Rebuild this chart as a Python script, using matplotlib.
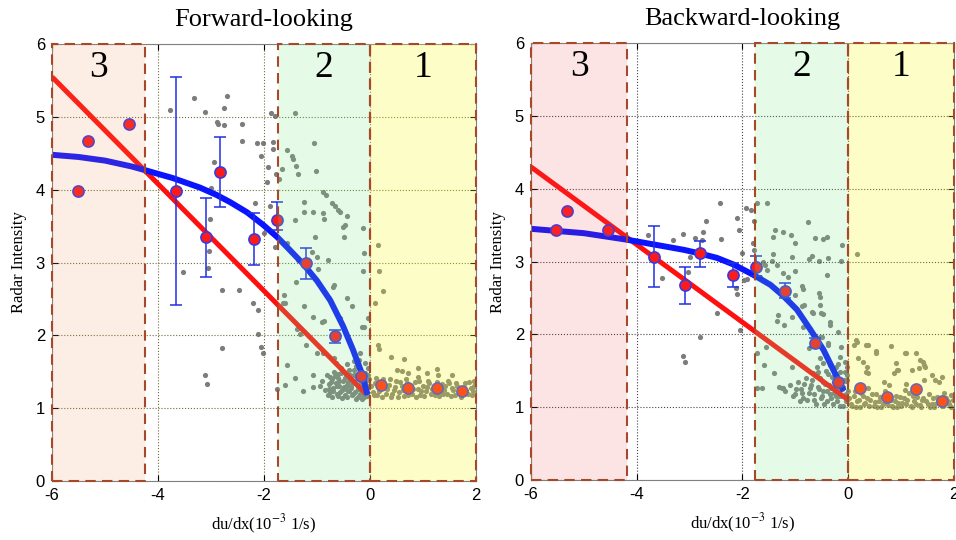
import numpy as np
import matplotlib
matplotlib.use("Agg")
from matplotlib import pyplot as plt
from matplotlib.patches import Rectangle

plt.rcParams['axes.unicode_minus'] = False
plt.rcParams['mathtext.fontset'] = 'stix'

# ---------------- data ----------------
titles = ["Forward-looking", "Backward-looking"]

# bin means (red dots)
fwd_mean_x = [-5.51, -5.32, -4.55, -3.66, -3.09, -2.83, -2.19, -1.75, -1.21, -0.66, -0.17, 0.21, 0.72, 1.26, 1.74]
fwd_mean_y = [3.98, 4.67, 4.90, 3.98, 3.35, 4.24, 3.32, 3.59, 2.99, 1.99, 1.44, 1.32, 1.28, 1.28, 1.24]
bwd_mean_x = [-5.53, -5.32, -4.54, -3.67, -3.08, -2.80, -2.17, -1.74, -1.19, -0.62, -0.19, 0.23, 0.74, 1.29, 1.77]
bwd_mean_y = [3.43, 3.69, 3.43, 3.06, 2.68, 3.12, 2.82, 2.93, 2.60, 1.88, 1.35, 1.26, 1.14, 1.25, 1.09]

# error bars (x, bottom, top)
fwd_err_x = [-3.66, -3.09, -2.83, -2.19, -1.75, -1.21, -0.66]
fwd_err_lo = [2.42, 2.80, 3.76, 2.97, 3.45, 2.77, 1.90]
fwd_err_hi = [5.55, 3.89, 4.73, 3.68, 3.83, 3.20, 2.08]
bwd_err_x = [-3.67, -3.08, -2.80, -2.17, -1.74, -1.19, -0.62]
bwd_err_lo = [2.65, 2.42, 2.93, 2.65, 2.80, 2.50, 1.82]
bwd_err_hi = [3.49, 2.93, 3.28, 2.98, 3.08, 2.71, 1.95]

# linear fit (red) and curved fit (blue)
fwd_lin_x = [-6.0, -0.08]
fwd_lin_y = [5.55, 1.20]
bwd_lin_x = [-6.0, 0.0]
bwd_lin_y = [4.30, 1.10]
fwd_fit_x = [-6.0, -5.5, -5.0, -4.5, -4.25, -3.72, -3.21, -2.9, -2.64, -2.32, -2.02, -1.75, -1.51, -1.26,
             -1.0, -0.75, -0.51, -0.32, -0.15, -0.06]
fwd_fit_y = [4.48, 4.45, 4.40, 4.32, 4.27, 4.16, 4.03, 3.93, 3.83, 3.69, 3.52, 3.35, 3.17, 2.98,
             2.75, 2.48, 2.13, 1.80, 1.47, 1.22]
bwd_fit_x = [-6.0, -5.0, -4.18, -3.56, -3.1, -2.80, -2.48, -2.17, -1.80, -1.47, -1.23, -0.97, -0.72, -0.47,
             -0.28, -0.11]
bwd_fit_y = [3.45, 3.39, 3.30, 3.22, 3.16, 3.11, 3.05, 2.96, 2.82, 2.68, 2.53, 2.34, 2.07, 1.79,
             1.51, 1.26]

# raw samples (grey dots), scattered ones
fwd_pts_x = [-3.77, -3.32, -2.70, -3.11, -2.75, -2.89, -2.87, -2.75, -2.42, -2.42, -2.13, -2.02, -1.87, -1.79,
             -1.83, -1.83, -2.06, -1.92, -1.77, -1.94, -2.94, -3.00, -2.17, -1.89, -3.02, -2.00, -3.04, -3.06,
             -3.53, -2.79, -2.47, -2.21, -2.11, -2.11, -2.06, -2.02, -2.79, -3.11, -3.08, -1.79,
             -1.57, -1.66, -1.72, -1.62, -1.60, -1.57, -1.60, -1.75, -1.42, -1.47, -1.45, -1.40, -1.36, -1.06,
             -1.02, -0.89, -0.83, -0.72, -0.66, -0.60, -0.57, -0.43, -0.47, -0.51, -0.13, -1.25, -1.25, -1.08,
             -0.89, -0.87, -1.42, -1.04, -0.49, -1.57, -1.09, -1.00, -0.79, -0.11, -0.13, -0.98, -1.36, -1.40,
             -1.64, -1.25, -1.08, -0.91, -0.87, -0.70, -0.68, -0.77, -0.43, -0.34, -0.57, -1.38, -1.32, -1.21,
             -1.00, -0.89, -0.15, -0.11, -0.04, -1.42, -1.26, -1.08, -1.08, -0.75, -0.60, -0.64, -0.68, -0.21,
             -0.19,
             0.15, 0.17, 0.25, 0.09, 0.15, 0.17, 0.40, 0.64, 0.51, 0.60, 0.72, 0.91, 1.26, 1.28, 1.55, 1.08,
             0.91, 1.96]
fwd_pts_y = [5.10, 5.26, 5.29, 5.07, 5.12, 4.93, 4.90, 4.89, 4.90, 4.67, 4.64, 4.64, 5.05, 5.01,
             4.66, 4.56, 4.46, 4.31, 4.22, 4.11, 4.38, 4.02, 3.82, 3.78, 3.60, 3.41, 3.16, 2.93,
             2.87, 2.62, 2.62, 2.44, 2.35, 2.02, 1.84, 1.76, 1.83, 1.46, 1.33, 3.21,
             4.55, 4.29, 4.15, 2.56, 2.45, 1.59, 1.32, 1.26, 5.05, 4.46, 4.42, 4.33, 4.22, 4.64,
             4.26, 3.97, 3.93, 3.82, 3.78, 3.72, 3.70, 3.64, 3.52, 3.49, 3.47, 3.83, 3.69, 3.69,
             3.68, 3.60, 3.59, 3.35, 3.35, 3.27, 3.15, 3.08, 3.04, 3.13, 2.88, 2.91, 3.04, 2.73,
             2.45, 2.40, 2.25, 2.18, 2.20, 2.66, 2.69, 2.51, 2.51, 2.40, 2.24, 2.09, 2.02, 1.87,
             1.76, 1.76, 2.12, 2.12, 2.24, 1.41, 1.24, 1.46, 1.29, 1.43, 1.47, 1.62, 1.69, 1.66,
             1.76,
             3.24, 2.88, 2.61, 2.45, 1.87, 1.81, 1.70, 1.67, 1.52, 1.51, 1.48, 1.55, 1.54, 1.46, 1.46, 1.48,
             1.43, 1.37]

# dense cluster near zero strain (forward)
fwd_dense_x = [-0.95, -0.90, -0.85, -0.82, -0.78, -0.75, -0.72, -0.70, -0.68, -0.65, -0.62, -0.60, -0.58, -0.55,
               -0.53, -0.50, -0.48, -0.46, -0.44, -0.42, -0.40, -0.38, -0.36, -0.34, -0.32, -0.30, -0.28, -0.26,
               -0.24, -0.22, -0.20, -0.18, -0.16, -0.14, -0.12, -0.10, -0.08, -0.06, -0.04, -0.02,
               -0.80, -0.77, -0.74, -0.71, -0.69, -0.66, -0.63, -0.61, -0.59, -0.56, -0.54, -0.52, -0.49, -0.47,
               -0.45, -0.43, -0.41, -0.39, -0.37, -0.35, -0.33, -0.31, -0.29, -0.27, -0.25, -0.23, -0.21, -0.19,
               -0.17, -0.15, -0.13, -0.11, -0.09, -0.07, -0.05, -0.03, -0.01, -0.44, -0.30, -0.15,
               0.05, 0.10, 0.14, 0.20, 0.25, 0.30, 0.35, 0.40, 0.45, 0.50, 0.55, 0.60, 0.65, 0.70, 0.75, 0.80,
               0.85, 0.90, 0.95, 1.00, 1.05, 1.10, 1.15, 1.20, 1.30, 1.35, 1.40, 1.45, 1.50, 1.55, 1.60, 1.65,
               1.70, 1.80, 1.85, 1.90, 1.95,
               0.02, 0.07, 0.12, 0.17, 0.22, 0.27, 0.32, 0.37, 0.42, 0.47, 0.52, 0.57, 0.62, 0.67, 0.72, 0.77,
               0.82, 0.87, 0.92, 0.97, 1.02, 1.07, 1.12, 1.17, 1.22, 1.27, 1.32, 1.37, 1.42, 1.47, 1.52, 1.57,
               1.62, 1.67, 1.72, 1.77, 1.82, 1.87, 1.92, 1.97]
fwd_dense_y = [1.30, 1.38, 1.25, 1.45, 1.33, 1.22, 1.40, 1.28, 1.50, 1.35, 1.20, 1.42, 1.30, 1.55,
               1.25, 1.38, 1.18, 1.46, 1.32, 1.24, 1.52, 1.40, 1.28, 1.18, 1.35, 1.45, 1.22, 1.58,
               1.32, 1.15, 1.40, 1.26, 1.50, 1.20, 1.35, 1.62, 1.28, 1.17, 1.45, 1.30,
               1.18, 1.27, 1.36, 1.15, 1.24, 1.44, 1.30, 1.17, 1.37, 1.22, 1.48, 1.14, 1.29, 1.42,
               1.26, 1.16, 1.36, 1.24, 1.46, 1.30, 1.20, 1.52, 1.34, 1.13, 1.42, 1.26, 1.55, 1.19,
               1.36, 1.30, 1.44, 1.16, 1.48, 1.38, 1.22, 1.55, 1.40, 1.60, 1.65, 1.12,
               1.22, 1.35, 1.18, 1.28, 1.40, 1.20, 1.32, 1.15, 1.25, 1.38, 1.22, 1.30, 1.17, 1.34, 1.24, 1.20,
               1.36, 1.27, 1.18, 1.31, 1.23, 1.38, 1.20, 1.30, 1.17, 1.33, 1.25, 1.20, 1.35, 1.28, 1.18, 1.30,
               1.22, 1.34, 1.20, 1.28, 1.24,
               1.30, 1.18, 1.42, 1.24, 1.16, 1.33, 1.26, 1.40, 1.19, 1.29, 1.16, 1.36, 1.25, 1.40, 1.18, 1.30,
               1.26, 1.16, 1.38, 1.23, 1.17, 1.29, 1.34, 1.26, 1.18, 1.36, 1.24, 1.20, 1.31, 1.38, 1.17, 1.25,
               1.34, 1.22, 1.16, 1.28, 1.24, 1.36, 1.18, 1.30]

bwd_pts_x = [-2.42, -1.93, -1.83, -2.10, -2.69, -2.06, -1.78, -3.78, -3.31, -3.12, -2.89, -2.74, -2.76, -2.40,
             -2.00, -1.80, -1.78, -3.52, -3.03, -2.99, -1.98, -1.91, -2.12, -2.10, -2.48, -2.04, -2.80, -3.12,
             -3.08,
             -1.72, -1.53, -1.57, -1.53, -1.66, -1.72, -1.59, -1.72, -0.77, -1.38, -1.42, -1.23, -1.09, -1.00,
             -0.62, -0.47, -0.41, -0.11, -1.42, -1.61, -1.45, -1.06, -0.75, -0.68, -0.56, -0.39, -0.13, -1.34,
             -1.00, -1.23, -0.41, -1.13, -0.87, -0.85, -0.56, -0.53, -1.00, -0.87, -0.83, -0.53, -0.68, -0.66,
             -0.51, -0.47, -1.32, -1.34, -1.06, -1.21, -0.85, -0.34, -0.34, -0.19, -0.53, -0.49, -1.55, -0.75,
             -0.39, -0.13, -0.53, -0.47, -0.15, -1.06, -1.40, -0.66, -0.58, -1.23, -1.64, -1.25, -0.38,
             0.17, 0.17, 0.10, 0.38, 0.52, 0.53, 0.19, 0.27, 0.36, 0.33, 0.38, 0.91, 0.93, 0.86, 1.10, 1.29,
             1.35, 1.41, 1.43, 1.33, 1.10, 1.44, 1.71, 1.94, -0.02, -0.02, 0.14, 0.34, 0.80, 1.08, 1.20, 1.46,
             1.58, 1.65, 1.77, 0.95, 0.67]
bwd_pts_y = [3.80, 3.74, 3.71, 3.60, 3.56, 3.43, 3.56, 3.37, 3.30, 3.38, 3.32, 3.41, 3.30, 3.31,
             3.12, 3.26, 3.16, 2.77, 2.86, 3.06, 2.75, 2.76, 2.64, 2.55, 2.29, 2.06, 1.96, 1.70,
             1.62,
             3.80, 3.80, 2.95, 2.88, 2.79, 1.74, 1.58, 1.26, 3.54, 3.43, 3.34, 3.40, 3.37, 3.26,
             3.32, 3.31, 3.34, 3.23, 3.10, 2.99, 3.01, 3.06, 3.04, 3.08, 3.01, 3.05, 3.01, 2.95,
             2.87, 2.84, 2.82, 2.79, 2.66, 2.62, 2.57, 2.51, 2.54, 2.39, 2.40, 2.40, 2.31, 2.29,
             2.29, 2.28, 2.27, 2.18, 2.24, 2.13, 2.10, 2.17, 2.13, 2.03, 1.96, 1.96, 1.83, 1.81,
             1.85, 1.83, 1.68, 1.61, 1.69, 1.55, 1.47, 1.47, 1.48, 1.26, 1.27, 1.27, 1.88,
             3.10, 1.90, 1.85, 1.85, 1.77, 1.74, 1.68, 1.62, 1.55, 1.48, 1.47, 1.61, 1.51, 1.47, 1.74, 1.74,
             1.65, 1.62, 1.58, 1.54, 1.32, 1.37, 1.35, 1.17, 1.44, 1.37, 1.92, 1.85, 1.84, 1.74, 1.51, 1.55,
             1.44, 1.37, 1.42, 1.51, 1.35]

# dense cluster near zero strain (backward)
bwd_dense_x = [-1.30, -1.20, -1.10, -1.00, -0.95, -0.90, -0.85, -0.80, -0.75, -0.70, -0.65, -0.60, -0.55, -0.50,
               -0.48, -0.45, -0.42, -0.40, -0.36, -0.33, -0.30, -0.27, -0.24, -0.22, -0.20, -0.17, -0.15, -0.12,
               -0.10, -0.08, -0.05, -0.03, -0.02,
               -1.05, -0.98, -0.92, -0.87, -0.83, -0.78, -0.73, -0.69, -0.64, -0.61, -0.57, -0.53, -0.51, -0.47,
               -0.44, -0.41, -0.38, -0.35, -0.32, -0.29, -0.26, -0.23, -0.21, -0.18, -0.16, -0.13, -0.11, -0.09,
               -0.07, -0.05, -0.04, -0.01, -0.60, -0.35, -0.19, -0.06,
               0.05, 0.10, 0.15, 0.20, 0.25, 0.30, 0.35, 0.40, 0.45, 0.50, 0.55, 0.60, 0.65, 0.70, 0.75, 0.80,
               0.85, 0.90, 0.95, 1.00, 1.05, 1.10, 1.15, 1.20, 1.25, 1.30, 1.35, 1.40, 1.50, 1.55, 1.60, 1.65,
               1.70, 1.80, 1.85, 1.90, 1.95,
               0.02, 0.08, 0.12, 0.17, 0.22, 0.28, 0.32, 0.38, 0.42, 0.48, 0.52, 0.58, 0.62, 0.68, 0.72, 0.78,
               0.82, 0.88, 0.92, 0.98, 1.02, 1.08, 1.12, 1.18, 1.22, 1.28, 1.32, 1.38, 1.42, 1.48, 1.52, 1.58,
               1.62, 1.68, 1.72, 1.78, 1.82, 1.88, 1.92, 1.98]
bwd_dense_y = [1.28, 1.22, 1.30, 1.18, 1.35, 1.25, 1.12, 1.40, 1.20, 1.30, 1.10, 1.45, 1.25, 1.15,
               1.35, 1.05, 1.50, 1.22, 1.30, 1.12, 1.42, 1.20, 1.55, 1.08, 1.32, 1.15, 1.48, 1.25,
               1.02, 1.38, 1.18, 1.55, 1.10,
               1.15, 1.25, 1.08, 1.20, 1.32, 1.10, 1.26, 1.38, 1.18, 1.05, 1.28, 1.40, 1.12, 1.22,
               1.32, 1.08, 1.45, 1.18, 1.26, 1.05, 1.35, 1.15, 1.44, 1.25, 1.02, 1.38, 1.15, 1.28,
               1.48, 1.08, 1.36, 1.22, 1.55, 1.58, 1.60, 1.62,
               1.05, 1.15, 1.00, 1.10, 1.20, 1.04, 1.12, 1.02, 1.18, 1.07, 1.00, 1.14, 1.05, 1.22, 1.03, 1.10,
               1.00, 1.16, 1.06, 1.02, 1.12, 1.04, 1.20, 1.00, 1.08, 1.14, 1.03, 1.10, 1.05, 1.00, 1.12, 1.04,
               1.08, 1.02, 1.12, 1.05, 1.00,
               1.12, 1.02, 1.22, 1.08, 1.00, 1.15, 1.06, 1.26, 1.10, 1.02, 1.18, 1.08, 1.00, 1.12, 1.06, 1.30,
               1.02, 1.09, 1.00, 1.14, 1.06, 1.24, 1.10, 1.02, 1.15, 1.05, 1.22, 1.00, 1.12, 1.08, 1.18, 1.04,
               1.00, 1.14, 1.06, 1.02, 1.20, 1.08, 1.02, 1.10]

# regime boundaries (3 | white | 2 | 1)
fwd_bounds = [-6.0, -4.25, -1.74, 0.0, 2.0]
bwd_bounds = [-6.0, -4.18, -1.76, 0.0, 2.0]
regime_labels = ["3", "2", "1"]

SERIF = "Liberation Serif"
SANS = "Liberation Sans"


def draw_panel(ax, title, px, py, dx, dy, mx, my, ex, elo, ehi, lx, ly, fx, fy, bounds, col3, gridcol):
    ax.scatter(px + dx, py + dy, s=14, color="#7c7c7c", linewidths=0, zorder=1)
    ax.plot(lx, ly, color="#ff1010", lw=3.6, zorder=2, solid_capstyle="butt")
    ax.plot(fx, fy, color="#0a14ff", lw=4.3, zorder=2.2, solid_joinstyle="round")
    elo = np.array(elo)
    ehi = np.array(ehi)
    mid = (elo + ehi) / 2
    half = (ehi - elo) / 2
    ax.errorbar(ex, mid, yerr=half, fmt="none", ecolor="#2030e0", elinewidth=1.1,
                capsize=4, capthick=1.1, zorder=2.5)
    ax.plot(mx, my, "o", ms=8, mfc="#ff1a1a", mec="#3a3ae0", mew=1.2, zorder=3)

    # regime shading and dashed boxes
    b3, bw, b2, b1, bend = bounds
    shades = [(b3, bw, col3[0], col3[1]), (b2, b1, "#7dea8a", 0.2), (b1, bend, "#f8f820", 0.25)]
    for lo, hi, c, a in shades:
        ax.add_patch(Rectangle((lo, 0), hi - lo, 6, facecolor=c, alpha=a, edgecolor="none", zorder=4))
        ax.add_patch(Rectangle((lo, 0), hi - lo, 6, facecolor="none", edgecolor="#a8482a",
                               lw=1.5, ls=(0, (5, 3)), zorder=5, clip_on=False))
    centers = [(b3 + bw) / 2, (b2 + b1) / 2, (b1 + bend) / 2]
    for cx, lab in zip(centers, regime_labels):
        ax.text(cx, 5.68, lab, ha="center", va="center", fontsize=27, family=SERIF, zorder=6)

    ax.set_xlim(-6, 2)
    ax.set_ylim(0, 6)
    ax.set_xticks([-6, -4, -2, 0, 2])
    ax.set_yticks([0, 1, 2, 3, 4, 5, 6])
    ax.grid(True, ls=":", color=gridcol, lw=0.8)
    ax.tick_params(direction="in", right=True, top=True, labelsize=12, length=4, pad=5)
    for lab in ax.get_xticklabels() + ax.get_yticklabels():
        lab.set_family(SANS)
    for s in ax.spines.values():
        s.set_color("#808080")
    ax.set_title(title, family=SERIF, fontsize=19, pad=13)
    ax.set_xlabel(r"du/dx(10$^{-3}$ 1/s)", family=SERIF, fontsize=12, labelpad=7)
    ax.set_ylabel("Radar Intensity", family=SERIF, fontsize=12, labelpad=6)


fig = plt.figure(figsize=(9.56, 5.4), dpi=100)
ax1 = fig.add_axes([0.0544, 0.1093, 0.4435, 0.809])
ax2 = fig.add_axes([0.5554, 0.1111, 0.4425, 0.809])

draw_panel(ax1, titles[0], fwd_pts_x, fwd_pts_y, fwd_dense_x, fwd_dense_y, fwd_mean_x, fwd_mean_y,
           fwd_err_x, fwd_err_lo, fwd_err_hi, fwd_lin_x, fwd_lin_y, fwd_fit_x, fwd_fit_y,
           fwd_bounds, ("#f08e4b", 0.15), "#6e6e3a")
draw_panel(ax2, titles[1], bwd_pts_x, bwd_pts_y, bwd_dense_x, bwd_dense_y, bwd_mean_x, bwd_mean_y,
           bwd_err_x, bwd_err_lo, bwd_err_hi, bwd_lin_x, bwd_lin_y, bwd_fit_x, bwd_fit_y,
           bwd_bounds, ("#eb4b4b", 0.15), "#444444")

fig.savefig("out.png", dpi=100)
